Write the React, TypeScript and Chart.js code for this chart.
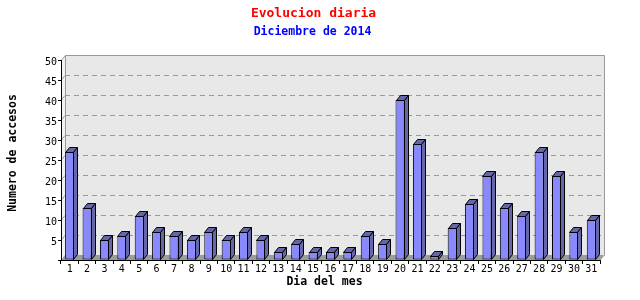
import { useEffect, useRef } from 'react';
import { Chart, registerables } from 'chart.js';

Chart.register(...registerables);

// Daily visits, December 2014
const days = [
  '1', '2', '3', '4', '5', '6', '7', '8', '9', '10', '11', '12', '13', '14', '15', '16',
  '17', '18', '19', '20', '21', '22', '23', '24', '25', '26', '27', '28', '29', '30', '31',
];
const visits = [
  27, 13, 5, 6, 11, 7, 6, 5, 7, 5, 7, 5, 2, 4, 2, 2,
  2, 6, 4, 40, 29, 1, 8, 14, 21, 13, 11, 27, 21, 7, 10,
];
const yMin = 0;
const yMax = 50;
const yStep = 5;

const TITLE = 'Evolucion diaria';
const SUBTITLE = 'Diciembre de 2014';
const Y_TITLE = 'Numero de accesos';
const X_TITLE = 'Dia del mes';

const MONO = '"DejaVu Sans Mono", "Liberation Mono", monospace';
const FRONT = '#8888ff';
const SIDE = '#6666aa';
const WALL = '#e8e8e8';
const SIDE_WALL = '#f2f2f2';
const FLOOR = '#9c9c9c';
const EDGE = '#999999';

// depth of the pseudo-3D box and bars
const DX = 4;
const DY = 5;

const poly = (ctx: CanvasRenderingContext2D, pts: number[][]) => {
  ctx.beginPath();
  ctx.moveTo(pts[0][0], pts[0][1]);
  for (let i = 1; i < pts.length; i++) ctx.lineTo(pts[i][0], pts[i][1]);
  ctx.closePath();
};

const box3d = {
  id: 'box3d',
  beforeDraw(chart: any) {
    const { ctx, chartArea } = chart;
    const { left, right, top, bottom } = chartArea;
    const y = chart.scales.y;
    ctx.save();
    // back wall
    ctx.fillStyle = WALL;
    ctx.fillRect(left + DX, top - DY, right - left, bottom - top);
    // left wall
    ctx.fillStyle = SIDE_WALL;
    poly(ctx, [[left, top], [left + DX, top - DY], [left + DX, bottom - DY], [left, bottom]]);
    ctx.fill();
    // dashed grid lines on the back wall
    ctx.lineWidth = 1;
    ctx.strokeStyle = EDGE;
    for (const t of y.ticks) {
      const v = t.value;
      if (v <= yMin || v >= yMax) continue;
      const py = Math.round(y.getPixelForValue(v)) + 0.5;
      ctx.setLineDash([]);
      ctx.beginPath();
      ctx.moveTo(left, py);
      ctx.lineTo(left + DX, py - DY);
      ctx.stroke();
      ctx.setLineDash([5, 4]);
      ctx.beginPath();
      ctx.moveTo(left + DX, py - DY);
      ctx.lineTo(right + DX, py - DY);
      ctx.stroke();
    }
    ctx.setLineDash([]);
    // floor
    ctx.fillStyle = FLOOR;
    poly(ctx, [[left, bottom], [left + DX, bottom - DY], [right + DX, bottom - DY], [right, bottom]]);
    ctx.fill();
    // wall edges
    ctx.strokeStyle = EDGE;
    ctx.beginPath();
    ctx.moveTo(left + 0.5, top);
    ctx.lineTo(left + DX + 0.5, top - DY + 0.5);
    ctx.lineTo(right + DX + 0.5, top - DY + 0.5);
    ctx.lineTo(right + DX + 0.5, bottom - DY);
    ctx.lineTo(right, bottom);
    ctx.moveTo(left + DX + 0.5, top - DY + 0.5);
    ctx.lineTo(left + DX + 0.5, bottom - DY);
    ctx.stroke();
    ctx.restore();
  },
  afterDatasetsDraw(chart: any) {
    const { ctx } = chart;
    const meta = chart.getDatasetMeta(0);
    ctx.save();
    ctx.lineWidth = 1;
    ctx.strokeStyle = '#000';
    ctx.fillStyle = SIDE;
    meta.data.forEach((el: any) => {
      const { x, y, base, width } = el.getProps(['x', 'y', 'base', 'width'], true);
      const l = Math.round(x - width / 2) + 0.5;
      const r = Math.round(x + width / 2) - 0.5;
      const t = Math.round(y) + 0.5;
      const b = Math.round(base) - 0.5;
      // top face
      poly(ctx, [[l, t], [l + DX, t - DY], [r + DX, t - DY], [r, t]]);
      ctx.fill();
      ctx.stroke();
      // side face
      poly(ctx, [[r, t], [r + DX, t - DY], [r + DX, b - DY], [r, b]]);
      ctx.fill();
      ctx.stroke();
    });
    ctx.restore();
  },
};

const titles = {
  id: 'titles',
  afterDraw(chart: any) {
    const { ctx, chartArea } = chart;
    const { left, right, top, bottom } = chartArea;
    const cx = (left + right) / 2;
    const cy = (top + bottom) / 2;
    ctx.save();
    ctx.textAlign = 'center';
    ctx.textBaseline = 'middle';
    ctx.font = `bold 13px ${MONO}`;
    ctx.fillStyle = '#ff0000';
    ctx.fillText(TITLE, chart.width / 2 - 6.5, 14);
    ctx.font = `bold 11.5px ${MONO}`;
    ctx.fillStyle = '#0000ff';
    ctx.fillText(SUBTITLE, chart.width / 2 - 7.5, 32);
    ctx.fillStyle = '#000';
    ctx.fillText(X_TITLE, cx - 6, bottom + 22);
    ctx.translate(13, cy - 7);
    ctx.rotate(-Math.PI / 2);
    ctx.fillText(Y_TITLE, 0, 0);
    ctx.restore();
  },
};

export default function App() {
  const ref = useRef<HTMLCanvasElement>(null);

  useEffect(() => {
    if (!ref.current) return;
    const chart = new Chart(ref.current, {
      type: 'bar',
      data: {
        labels: days,
        datasets: [
          {
            data: visits,
            backgroundColor: FRONT,
            borderColor: '#000',
            borderWidth: 1,
            borderSkipped: false,
            barPercentage: 0.52,
            categoryPercentage: 1,
          },
        ],
      },
      options: {
        responsive: false,
        animation: false,
        layout: { padding: { left: 0, right: 40, top: 60, bottom: 0 } },
        plugins: {
          legend: { display: false },
          tooltip: { enabled: false },
          title: { display: false },
        },
        scales: {
          x: {
            afterFit: (s: any) => {
              s.height = 40;
            },
            grid: {
              offset: true,
              drawOnChartArea: false,
              drawTicks: true,
              tickLength: 4,
              color: '#000',
            },
            border: { display: true, color: '#000', width: 1 },
            ticks: {
              autoSkip: false,
              maxRotation: 0,
              padding: 0,
              color: '#000',
              font: { family: MONO, size: 10, lineHeight: 1 },
            },
          },
          y: {
            min: yMin,
            max: yMax,
            afterFit: (s: any) => {
              s.width = 61;
            },
            grid: {
              drawOnChartArea: false,
              drawTicks: true,
              tickLength: 3,
              color: '#000',
            },
            border: { display: true, color: '#000', width: 1 },
            ticks: {
              stepSize: yStep,
              padding: 1,
              labelOffset: 2,
              color: '#000',
              font: { family: MONO, size: 10, lineHeight: 1 },
              callback: (v: any) => (v === 0 ? '' : String(v)),
            },
          },
        },
      },
      plugins: [box3d, titles],
    });
    return () => chart.destroy();
  }, []);

  return (
    <div style={{ position: 'absolute', left: 0, top: 0, width: 640, height: 300 }}>
      <canvas ref={ref} width={640} height={300} style={{ display: 'block' }} />
    </div>
  );
}
